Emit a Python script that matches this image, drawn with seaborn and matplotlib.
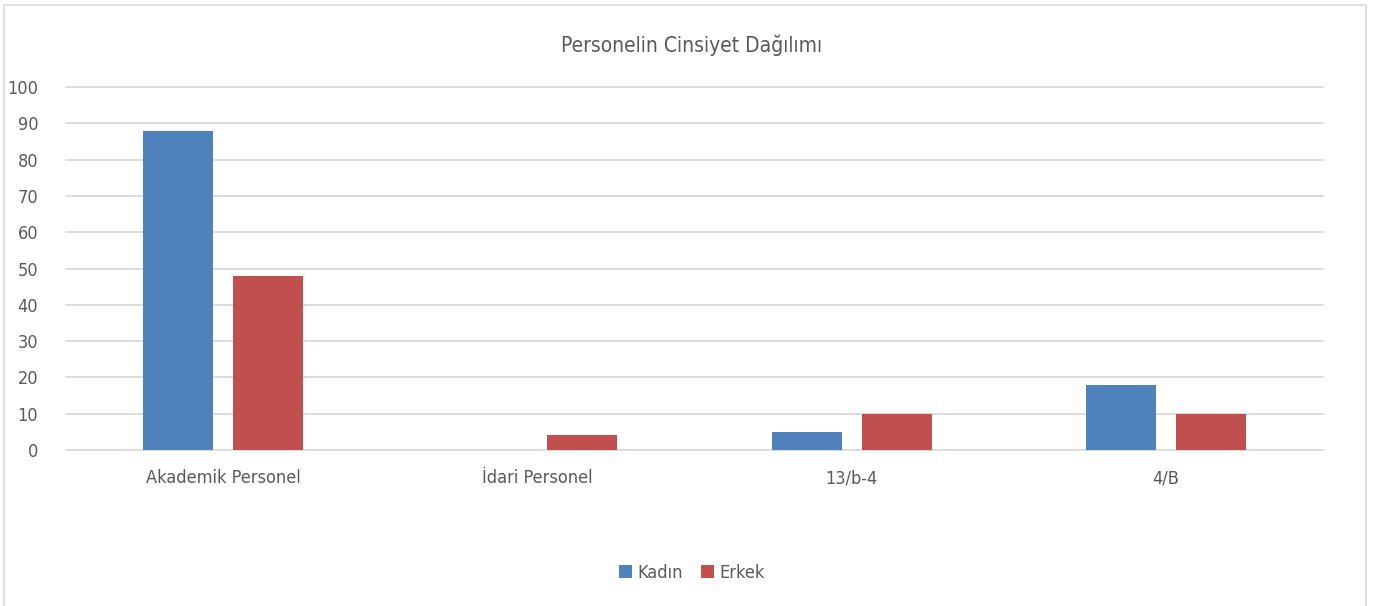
import matplotlib
matplotlib.use("Agg")
import matplotlib.pyplot as plt
import pandas as pd
import seaborn as sns
from matplotlib.patches import Rectangle

categories = ["Akademik Personel", "İdari Personel", "13/b-4", "4/B"]
kadin = [88, 0, 5, 18]
erkek = [48, 4, 10, 10]
series = ["Kadın", "Erkek"]
colors = ["#4F81BD", "#C0504D"]
yticks = list(range(0, 101, 10))

df = pd.DataFrame({
    "kategori": categories * 2,
    "cinsiyet": [series[0]] * 4 + [series[1]] * 4,
    "deger": kadin + erkek,
})

sns.set_theme(style="white")
plt.rcParams["font.family"] = ["DejaVu Sans"]
plt.rcParams["font.stretch"] = "condensed"
text_color = "#595959"

fig = plt.figure(figsize=(13.84, 6.06), dpi=100)
ax = fig.add_axes([66 / 1384, 1 - 450 / 606, (1323 - 66) / 1384, (450 - 87) / 606])

sns.barplot(data=df, x="kategori", y="deger", hue="cinsiyet", palette=colors,
            width=0.573, gap=0.222, ax=ax, legend=True, saturation=1, linewidth=0)

ax.set_ylim(0, 100)
ax.set_xlim(-0.5, 3.5)
ax.set_yticks(yticks)
ax.yaxis.grid(True, color="#d9d9d9", linewidth=1.3)
for gl in ax.get_ygridlines():
    gl.set_clip_on(False)
ax.set_axisbelow(True)
for s in ax.spines.values():
    s.set_visible(False)
ax.set_xlabel("")
ax.set_ylabel("")
ax.tick_params(axis="y", length=0, pad=20, labelsize=13, labelcolor=text_color)
ax.tick_params(axis="x", length=0, pad=14, labelsize=13, labelcolor=text_color)
for lbl in ax.get_yticklabels():
    lbl.set_horizontalalignment("right")

fig.text(0.5, 1 - 45 / 606, "Personelin Cinsiyet Dağılımı", ha="center", va="center",
         fontsize=15, color=text_color)

ax.legend(loc="center", bbox_to_anchor=(0.5, 1 - 573 / 606), bbox_transform=fig.transFigure,
          ncol=2, frameon=False, fontsize=13, labelcolor=text_color,
          handlelength=0.7, handleheight=0.7, handletextpad=0.3, columnspacing=1.0)

fig.patches.append(Rectangle((4 / 1384, -0.01), (1366 - 4) / 1384, 1 - 5 / 606 + 0.01,
                             transform=fig.transFigure, fill=False, edgecolor="#d9d9d9",
                             linewidth=1.2))

fig.savefig("out.png", dpi=100, facecolor="white")
